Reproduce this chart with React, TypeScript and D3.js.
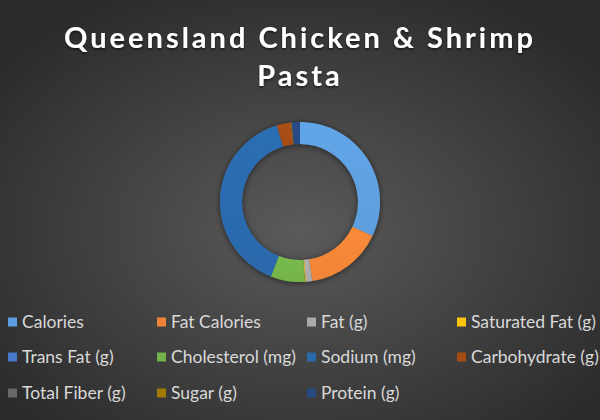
import React from "react";
import * as d3 from "d3";

const categories = [
  "Calories",
  "Fat Calories",
  "Fat (g)",
  "Saturated Fat (g)",
  "Trans Fat (g)",
  "Cholesterol (mg)",
  "Sodium (mg)",
  "Carbohydrate (g)",
  "Total Fiber (g)",
  "Sugar (g)",
  "Protein (g)",
];
const values = [1390, 675, 57, 8, 1, 300, 1710, 122, 4, 6, 72];
const colors = [
  "#5d9fde",
  "#f08436",
  "#aaaaaa",
  "#ffc410",
  "#4878cc",
  "#74b34b",
  "#2a69ac",
  "#a54c12",
  "#686868",
  "#a07a05",
  "#284a82",
];
const titleLines = ["Queensland Chicken & Shrimp", "Pasta"];

const W = 600;
const H = 420;

export default function App() {
  const cx = 300;
  const cy = 202;
  const outer = 80;
  const inner = 58;
  const pie = d3.pie<number>().sort(null).value((d) => d);
  const arcs = pie(values);
  const arc = d3.arc<d3.PieArcDatum<number>>().innerRadius(inner).outerRadius(outer);

  const colX = [8, 157, 307, 457];
  const rowY = [322, 357, 393];

  return (
    <svg
      width={W}
      height={H}
      style={{ position: "absolute", left: 0, top: 0 }}
      fontFamily="Lato, 'Open Sans', sans-serif"
    >
      <defs>
        <radialGradient id="bg" cx="50%" cy="55%" r="65%">
          <stop offset="0%" stopColor="#5a5a5a" />
          <stop offset="100%" stopColor="#2a2a2a" />
        </radialGradient>
        <filter id="shadow" x="-30%" y="-30%" width="160%" height="160%">
          <feDropShadow dx="0" dy="1" stdDeviation="3" floodColor="#000" floodOpacity="0.55" />
        </filter>
        <filter id="tshadow" x="-10%" y="-30%" width="120%" height="160%">
          <feDropShadow dx="0" dy="1.5" stdDeviation="1.2" floodColor="#000" floodOpacity="0.6" />
        </filter>
        {arcs.map((a, i) => (
          <linearGradient key={i} id={`g${i}`} x1="0" y1="0" x2="0" y2="1">
            <stop offset="0%" stopColor={d3.color(colors[i])!.brighter(0.12).formatHex()} />
            <stop offset="100%" stopColor={colors[i]} />
          </linearGradient>
        ))}
      </defs>
      <rect x={0} y={0} width={W} height={H} fill="url(#bg)" />
      <g filter="url(#tshadow)">
        {titleLines.map((t, i) => (
          <text
            key={i}
            x={W / 2}
            y={48 + i * 38}
            textAnchor="middle"
            fill="#ffffff"
            fontSize={29}
            fontWeight={700}
            letterSpacing={3}
          >
            {t}
          </text>
        ))}
      </g>
      <g transform={`translate(${cx},${cy})`} filter="url(#shadow)">
        {arcs.map((a, i) => (
          <path key={i} d={arc(a) || ""} fill={`url(#g${i})`} />
        ))}
      </g>
      <g>
        {categories.map((c, i) => {
          const col = i % 4;
          const row = Math.floor(i / 4);
          const x = colX[col];
          const y = rowY[row];
          return (
            <g key={c}>
              <rect x={x} y={y - 4.5} width={9} height={9} fill={colors[i]} />
              <text x={x + 14} y={y} dy="0.35em" fill="#d9d9d9" fontSize={17.5}>
                {c}
              </text>
            </g>
          );
        })}
      </g>
    </svg>
  );
}
